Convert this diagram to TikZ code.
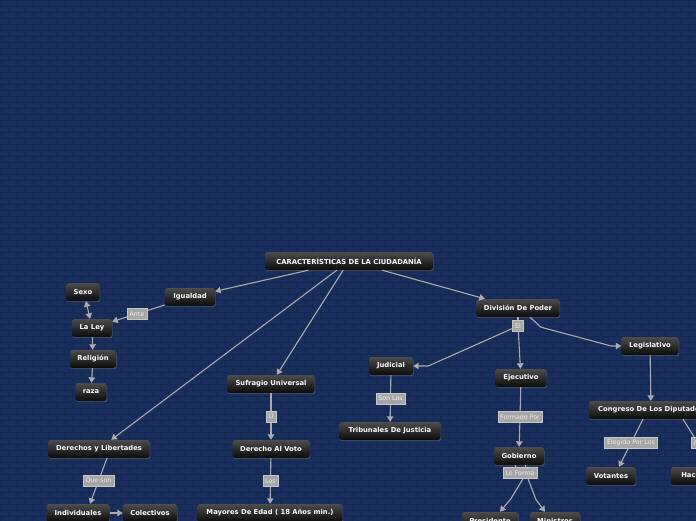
\documentclass[tikz,border=0pt]{standalone}
\usepackage{fontspec}
\setmainfont{DejaVu Sans}
\usetikzlibrary{arrows.meta,shadows}

\definecolor{fondo}{HTML}{1A2E5E}
\definecolor{mortero}{HTML}{15284F}
\definecolor{gris}{HTML}{ABABAB}
\definecolor{etiq}{HTML}{A6A6A6}

\begin{document}
\begin{tikzpicture}[
  x=1pt, y=-1pt,
  caja/.style={rectangle, rounded corners=2.5pt, top color=black!70,
               bottom color=black!96, text=white, inner xsep=6pt,
               font=\bfseries\fontsize{6.8}{8}\selectfont,
               minimum height=18pt,
               drop shadow={opacity=0.45, shadow xshift=0.6pt, shadow yshift=-1.2pt}},
  etiqueta/.style={rectangle, fill=etiq, draw=black!22, line width=0.4pt,
                   text=white!92!black, font=\fontsize{6.3}{7}\selectfont,
                   inner xsep=2.5pt, inner ysep=0pt, minimum height=11pt},
  punta/.style={Triangle[length=5.5pt,width=6.5pt]},
  flecha/.style={draw=gris, line width=1.1pt, -{Triangle[length=5.5pt,width=6.5pt]}},
  linea/.style={draw=gris, line width=1.1pt}
]
\useasboundingbox (0,0) rectangle (696,520);
\clip (-4,-4) rectangle (700,524);
\fill[fondo] (-4,-4) rectangle (700,524);
% ladrillos
\foreach \r in {0,...,87}{
  \pgfmathsetmacro\off{mod(\r,2)*8}
  \draw[mortero, line width=0.6pt] (-4,6*\r) -- (700,6*\r);
  \draw[mortero, line width=0.6pt] \foreach \c in {0,...,44}{ (\off+16*\c,6*\r) -- ++(0,6) };
}

\node[caja, minimum width=168pt] (tit)   at (349,261) {CARACTERÍSTICAS DE LA CIUDADANÍA};
\node[caja, minimum width=50pt]  (igu)   at (190,297) {Igualdad};
\node[caja, minimum width=33pt]  (sexo)  at (83,292)  {Sexo};
\node[caja, minimum width=40pt]  (ley)   at (92,328)  {La Ley};
\node[caja, minimum width=46pt]  (rel)   at (93,359)  {Religión};
\node[caja, minimum width=31pt]  (raza)  at (91,392)  {raza};
\node[caja, minimum width=87pt]  (sufr)  at (271,384) {Sufragio Universal};
\node[caja, minimum width=101pt] (der)   at (99,449)  {Derechos y Libertades};
\node[caja, minimum width=77pt]  (voto)  at (271,449) {Derecho Al Voto};
\node[caja, minimum width=63pt]  (indiv) at (78,513)  {Individuales};
\node[caja, minimum width=54pt]  (colec) at (150,513) {Colectivos};
\node[caja, minimum width=145pt] (mayor) at (270,513) {Mayores De Edad ( 18 Años min.)};
\node[caja, minimum width=83pt]  (div)   at (518,308) {División De Poder};
\node[caja, minimum width=44pt]  (jud)   at (391,366) {Judicial};
\node[caja, minimum width=101pt] (trib)  at (390,431) {Tribunales De Justicia};
\node[caja, minimum width=51pt]  (ejec)  at (521,378) {Ejecutivo};
\node[caja, minimum width=50pt]  (gob)   at (519,456) {Gobierno};
\node[caja, minimum width=57pt]  (legis) at (650,346) {Legislativo};
\node[caja, minimum width=124pt] (cong)  at (651,410) {Congreso De Los Diputados};
\node[caja, minimum width=49pt]  (vot)   at (611,476) {Votantes};
\node[caja, minimum width=84pt]  (hace)  at (713,476) {Hacen Las Leyes};
\node[caja, minimum width=56pt]  (pres)  at (490,521) {Presidente};
\node[caja, minimum width=50pt]  (mins)  at (555,521) {Ministros};

\draw[flecha] (tit) -- (igu);
\draw[flecha] (tit) -- (der);
\draw[flecha] (tit) -- (sufr);
\draw[flecha] (tit) -- (div);
\draw[flecha] (igu) -- node[etiqueta, pos=0.53] {Ante} (ley);
\draw[linea, {Triangle[length=5.5pt,width=6.5pt]}-{Triangle[length=5.5pt,width=6.5pt]}]
  ([xshift=3pt]sexo.south) -- ([xshift=-2pt]ley.north);
\draw[flecha] (ley) -- (rel);
\draw[flecha] (rel) -- (raza);
\draw[flecha] (sufr) -- node[etiqueta] {O} (voto);
\draw[flecha] (voto) -- node[etiqueta] {Los} (mayor);
\draw[flecha] ([xshift=8pt]der.south) -- node[etiqueta] {Que son} ([xshift=12pt]indiv.north);
\draw[flecha] (indiv) -- (colec);

\node[etiqueta] (el) at (518,326) {El};
\draw[linea] (div) -- (el);
\draw[flecha] (el) -- ([xshift=15pt]jud.east) -- (jud.east);
\draw[flecha] (el) -- (ejec);
\draw[flecha] ([xshift=12pt]div.south) -- ++(11,10) -- ([xshift=-10pt]legis.west) -- (legis.west);
\draw[flecha] (jud) -- node[etiqueta] {Son Los} (trib);
\draw[flecha] (ejec) -- node[etiqueta] {Formado Por} (gob);

\node[etiqueta] (lf) at (520,473) {Lo Forma};
\draw[linea] ([xshift=-4pt]gob.south) -- ([xshift=-4pt]lf.north);
\draw[linea] ([xshift=6pt]gob.south) -- ([xshift=6pt]lf.north);
\draw[flecha] ([xshift=3pt]lf.south) -- ++(-12,20) -- ([xshift=10pt]pres.north);
\draw[flecha] ([xshift=8pt]lf.south) -- ++(8,21) -- ([xshift=-10pt]mins.north);

\draw[flecha] (legis) -- (cong);
\draw[flecha] ([xshift=-8pt]cong.south) -- node[etiqueta] {Elegido Por Los} ([xshift=8pt]vot.north);
\draw[flecha] ([xshift=32pt]cong.south) -- node[etiqueta, pos=0.5, xshift=8pt] {Función} (hace.north);
\end{tikzpicture}
\end{document}
